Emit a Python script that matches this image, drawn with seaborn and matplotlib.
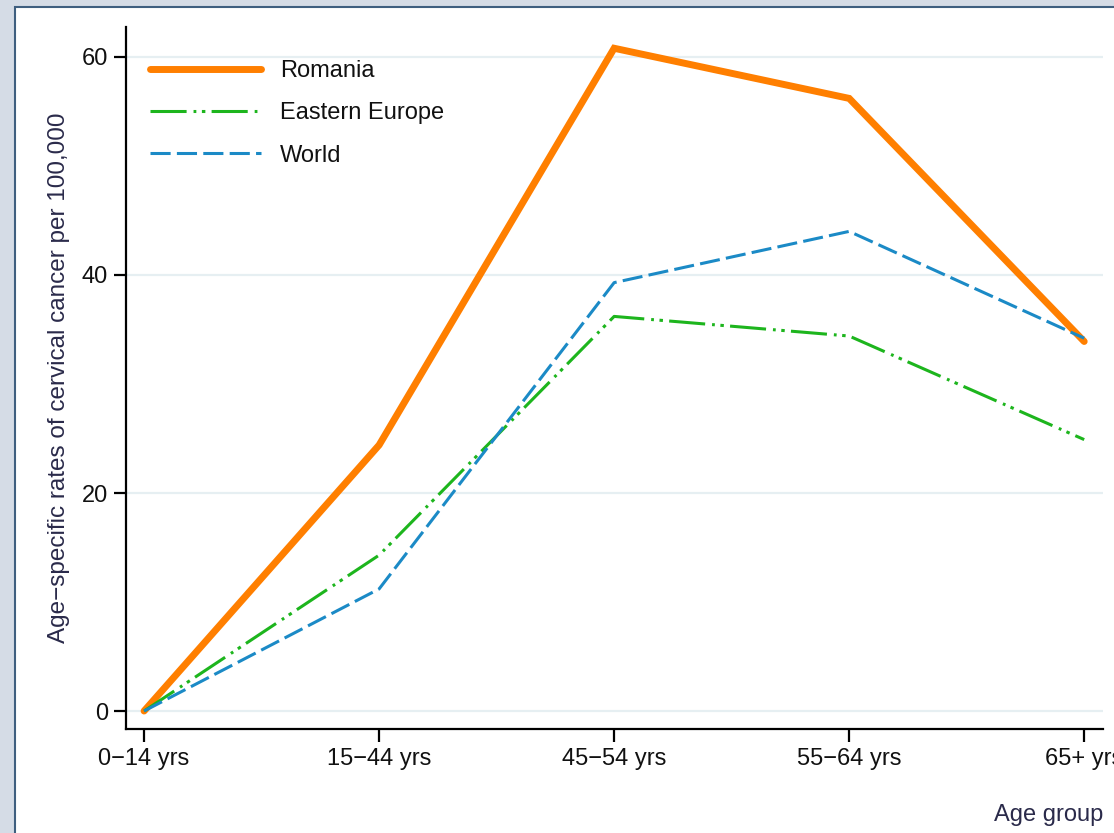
import matplotlib
matplotlib.use("Agg")
import matplotlib.pyplot as plt
import seaborn as sns
import pandas as pd
from matplotlib.patches import Rectangle

age_groups = ["0\u221214 yrs", "15\u221244 yrs", "45\u221254 yrs", "55\u221264 yrs", "65+ yrs"]
romania = [0.0, 24.4, 60.8, 56.2, 33.9]
eastern_europe = [0.0, 14.3, 36.2, 34.4, 24.9]
world = [0.0, 11.2, 39.3, 44.0, 34.2]
y_ticks = [0, 20, 40, 60]

sns.set_theme(style="white")
plt.rcParams["font.family"] = ["Liberation Sans", "DejaVu Sans"]
plt.rcParams["lines.scale_dashes"] = False

fig = plt.figure(figsize=(11.14, 8.33), dpi=100)
fig.patch.set_facecolor("#d5dce6")
fig.patches.append(Rectangle((15 / 1114, -0.1), 1.2, 1 - 7 / 833 + 0.1,
                             transform=fig.transFigure, facecolor="white",
                             edgecolor="#3f5f7f", linewidth=1.5, zorder=-10))

ax = fig.add_axes([126 / 1114, 1 - 729 / 833, (1103 - 126) / 1114, (729 - 27) / 833])
ax.set_facecolor("none")
ax.set_zorder(5)

series = [
    ("Romania", romania, "#FF7F00", 5.0, "-"),
    ("Eastern Europe", eastern_europe, "#1DB51D", 2.2, (0, (26, 5, 2, 4, 2.5, 4.5))),
    ("World", world, "#1B8AC6", 2.2, (0, (14.5, 4.5))),
]
for name, vals, col, lw, ls in series:
    df = pd.DataFrame({"age": age_groups, "rate": vals})
    sns.lineplot(data=df, x="age", y="rate", ax=ax, color=col, linewidth=lw,
                 linestyle=ls, sort=False, label=name, solid_capstyle="round",
                 solid_joinstyle="miter", dash_capstyle="butt")

ax.set_xlim(-0.077, 4.08)
ax.set_ylim(-1.65, 62.75)
ax.set_yticks(y_ticks)
ax.set_yticklabels([str(t) for t in y_ticks])
for t in y_ticks:
    ax.axhline(t, color="#e6eff2", linewidth=1.6, zorder=0)

for s in ["top", "right"]:
    ax.spines[s].set_visible(False)
for s in ["left", "bottom"]:
    ax.spines[s].set_color("black")
    ax.spines[s].set_linewidth(1.6)

ax.tick_params(axis="both", which="major", direction="out", length=9, width=1.6,
               color="black", labelsize=17, labelcolor="#111111", pad=4,
               left=True, bottom=True)
ax.tick_params(axis="x", pad=5)

ax.set_ylabel("Age\u2212specific rates of cervical cancer per 100,000", fontsize=17.5,
              color="#2a2a4a", labelpad=8)
ax.set_xlabel("")
fig.text(1103 / 1114, 1 - 815 / 833, "Age group", ha="right", va="center",
         fontsize=17, color="#2a2a4a")

leg = ax.legend(loc="upper left", bbox_to_anchor=(0.0246, 0.953), frameon=False,
                fontsize=17, handlelength=4.7, handletextpad=0.8, labelspacing=0.86,
                borderaxespad=0, borderpad=0)
for txt in leg.get_texts():
    txt.set_color("#111111")

fig.savefig("out.png", dpi=100, facecolor=fig.get_facecolor())
